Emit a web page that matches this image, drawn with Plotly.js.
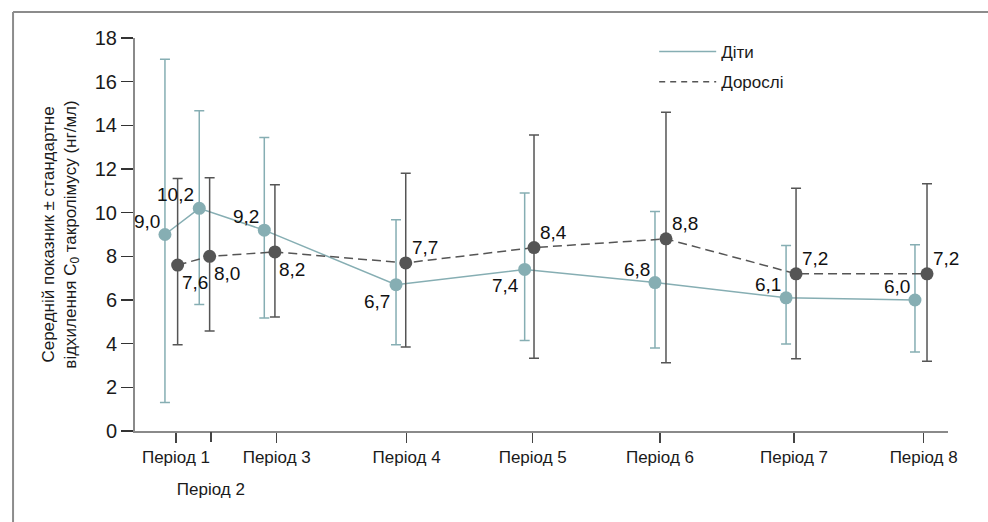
<!DOCTYPE html>
<html>
<head>
<meta charset="utf-8">
<script src="https://cdn.plot.ly/plotly-3.0.1.min.js"></script>
<style>
html, body { margin: 0; padding: 0; background: #ffffff; }
#chart { width: 988px; height: 522px; }
</style>
</head>
<body>
<div id="chart"></div>
<script>
// ---- data ----
const periodLabels = ['Період 1', 'Період 2', 'Період 3', 'Період 4', 'Період 5', 'Період 6', 'Період 7', 'Період 8'];
// position of each period on the (uneven) time axis
const periodPos = [1.0, 1.273, 1.787, 2.802, 3.787, 4.781, 5.828, 6.841];
// points are drawn slightly apart: children to the left, adults at the tick
const childPos = [0.914, 1.182, 1.690, 2.719, 3.724, 4.742, 5.766, 6.773];
const adultPos = [1.013, 1.263, 1.773, 2.795, 3.797, 4.828, 5.844, 6.867];

const seriesNames = ['Діти', 'Дорослі'];
const childMean = [9.0, 10.2, 9.2, 6.7, 7.4, 6.8, 6.1, 6.0];
const adultMean = [7.6, 8.0, 8.2, 7.7, 8.4, 8.8, 7.2, 7.2];

// mean ± SD whisker ends
const childUpper = [17.03, 14.67, 13.44, 9.67, 10.9, 10.05, 8.5, 8.53];
const childLower = [1.3, 5.79, 5.18, 3.95, 4.14, 3.8, 3.98, 3.62];
const adultUpper = [11.56, 11.6, 11.28, 11.8, 13.56, 14.6, 11.12, 11.33];
const adultLower = [3.95, 4.58, 5.22, 3.85, 3.33, 3.13, 3.31, 3.19];

// ---- styling ----
const childLabelPos = ['top left', 'top left', 'top left', 'bottom left', 'bottom left', 'top left', 'top left', 'top left'];
const adultLabelPos = ['bottom right', 'bottom right', 'bottom right', 'top right', 'top right', 'top right', 'top right', 'top right'];
const labelPlacement = {
  'top left':     { xanchor: 'right', yanchor: 'bottom', xshift: -3, yshift: 1 },
  'top right':    { xanchor: 'left',  yanchor: 'bottom', xshift: 4,  yshift: 3 },
  'bottom left':  { xanchor: 'right', yanchor: 'top',    xshift: -4, yshift: -4 },
  'bottom right': { xanchor: 'left',  yanchor: 'top',    xshift: 2,  yshift: -5 }
};

const CHILD = '#86aeb3';
const ADULT = '#555555';
const FONT = 'Liberation Sans, Arial, sans-serif';
const fmt = v => v.toFixed(1).replace('.', ',');

const plus = (up, m) => up.map((u, i) => u - m[i]);
const minus = (lo, m) => lo.map((l, i) => m[i] - l);

// the second period's label sits one row lower in the reference
const lowIdx = [1];
const mainTickVals = periodPos.filter((_, i) => !lowIdx.includes(i));
const mainTickText = periodLabels.filter((_, i) => !lowIdx.includes(i));
const lowTickVals = lowIdx.map(i => periodPos[i]);
const lowTickText = lowIdx.map(i => periodLabels[i]);

const traces = [
  {
    x: childPos, y: childMean, type: 'scatter', mode: 'lines+markers',
    name: seriesNames[0], showlegend: false, cliponaxis: false,
    line: { color: CHILD, width: 1.5 },
    marker: { color: CHILD, size: 13 },
    error_y: { type: 'data', symmetric: false, array: plus(childUpper, childMean), arrayminus: minus(childLower, childMean),
               color: CHILD, thickness: 1.5, width: 5 },
    hoverinfo: 'x+y'
  },
  {
    x: adultPos, y: adultMean, type: 'scatter', mode: 'lines+markers',
    name: seriesNames[1], showlegend: false, cliponaxis: false,
    line: { color: ADULT, width: 1.5, dash: '9px,5px' },
    marker: { color: ADULT, size: 13 },
    error_y: { type: 'data', symmetric: false, array: plus(adultUpper, adultMean), arrayminus: minus(adultLower, adultMean),
               color: ADULT, thickness: 1.5, width: 5 },
    hoverinfo: 'x+y'
  },
  // legend-only entries (line samples without markers)
  { x: [null], y: [null], xaxis: 'x2', type: 'scatter', mode: 'lines', name: seriesNames[0], legendgroup: 'a',
    line: { color: CHILD, width: 1.5 }, hoverinfo: 'skip' },
  { x: [null], y: [null], xaxis: 'x2', type: 'scatter', mode: 'lines', name: seriesNames[1], legendgroup: 'b',
    line: { color: ADULT, width: 1.5, dash: '6px,5px' }, hoverinfo: 'skip' }
];

function valueLabels(xs, ys, places) {
  return ys.map((v, i) => Object.assign({
    x: xs[i], y: v, xref: 'x', yref: 'y', text: fmt(v), showarrow: false,
    font: { family: FONT, size: 19, color: '#111111' }
  }, labelPlacement[places[i]]));
}

const xRange = [0.68, 7.031];

const layout = {
  width: 988, height: 522,
  margin: { l: 135, r: 40, t: 38, b: 91 },
  paper_bgcolor: '#ffffff', plot_bgcolor: '#ffffff',
  font: { family: FONT, color: '#1a1a1a' },
  showlegend: true,
  legend: {
    x: 0.6386, y: 1.01, xanchor: 'left', yanchor: 'top',
    bgcolor: 'rgba(0,0,0,0)', font: { family: FONT, size: 17, color: '#1a1a1a' },
    itemwidth: 57, tracegroupgap: 5, traceorder: 'grouped'
  },
  xaxis: {
    range: xRange, tickmode: 'array', tickvals: mainTickVals, ticktext: mainTickText,
    showline: true, linecolor: '#8a8a8a', linewidth: 2,
    ticks: 'outside', ticklen: 10, tickwidth: 1.5, tickcolor: '#444444',
    showgrid: false, zeroline: false,
    tickfont: { family: FONT, size: 17, color: '#1a1a1a' }
  },
  xaxis2: {
    overlaying: 'x', anchor: 'y', side: 'bottom',
    range: xRange, tickmode: 'array', tickvals: lowTickVals, ticktext: lowTickText,
    showline: false, ticks: 'outside', ticklen: 10, tickwidth: 1.5, tickcolor: '#444444',
    ticklabelstandoff: 33,
    showgrid: false, zeroline: false,
    tickfont: { family: FONT, size: 17, color: '#1a1a1a' }
  },
  yaxis: {
    range: [0, 18], tick0: 0, dtick: 2,
    showline: true, linecolor: '#8a8a8a', linewidth: 2,
    ticks: 'outside', ticklen: 12, tickwidth: 1.5, tickcolor: '#333333',
    showgrid: false, zeroline: false,
    tickfont: { family: FONT, size: 20, color: '#1a1a1a' },
    title: { text: 'Середній показник ± стандартне<br>відхилення C<sub>0</sub> такролімусу (нг/мл)',
             font: { family: FONT, size: 17, color: '#1a1a1a' }, standoff: 14 }
  },
  annotations: valueLabels(childPos, childMean, childLabelPos).concat(valueLabels(adultPos, adultMean, adultLabelPos)),
  shapes: [
    { type: 'line', xref: 'paper', yref: 'paper', x0: -0.150, x1: 1.06, y0: 1.066, y1: 1.066,
      line: { color: '#8c8c8c', width: 2 } },
    { type: 'line', xref: 'paper', yref: 'paper', x0: -0.150, x1: -0.150, y0: 1.066, y1: -0.25,
      line: { color: '#8c8c8c', width: 2 } }
  ]
};

Plotly.newPlot('chart', traces, layout, { displayModeBar: false, staticPlot: true });
</script>
</body>
</html>
